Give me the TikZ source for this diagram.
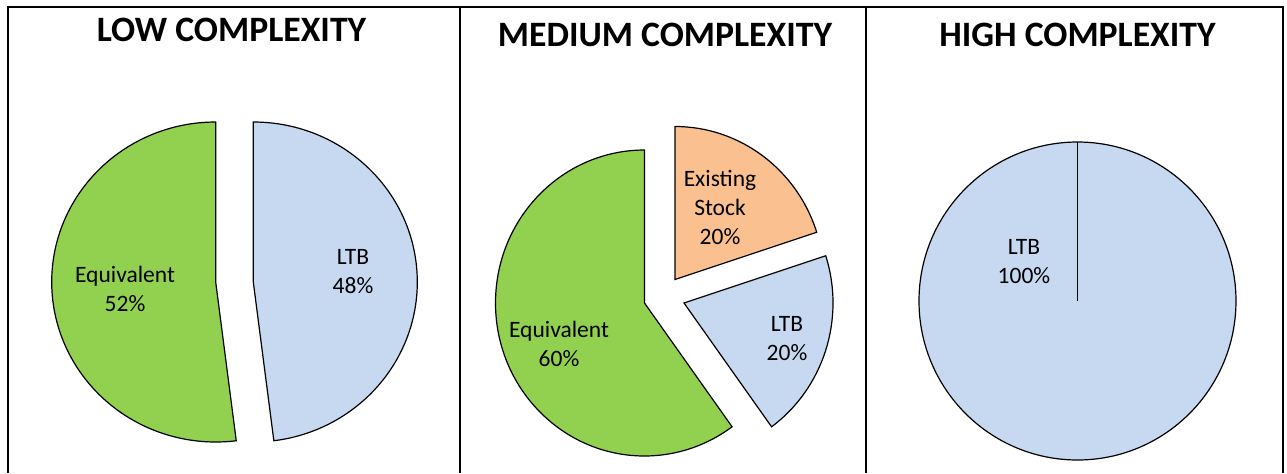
\documentclass[tikz,border=0pt]{standalone}
\usepackage{fontspec}
\setmainfont{Carlito}
\usetikzlibrary{positioning}
\definecolor{eqgreen}{HTML}{92D050}
\definecolor{ltbblue}{HTML}{C6D9F1}
\definecolor{stockorange}{HTML}{FAC090}
\tikzstyle{every node}=[align=center,font=\fontsize{11.75}{14.5}\selectfont]
\tikzstyle{paneltitle}=[anchor=base,font=\bfseries\fontsize{17.85}{20}\selectfont]
\tikzstyle{slice}=[draw=black,line width=0.6pt,line join=miter]
\tikzstyle{frame}=[draw=black,line width=1pt]

\begin{document}
\begin{tikzpicture}[x=0.5pt,y=0.5pt]
  \useasboundingbox (0,0) rectangle (1287,-473);
  % frame and panel dividers
  \draw[frame] (8,-473) |- (1283,-7) -- (1283,-473);
  \draw[frame] (460,-7) -- (460,-473);
  \draw[frame] (866,-7) -- (866,-473);
  % low complexity
  \draw[slice,fill=eqgreen] (215.7,-282) -- ++(0,160)
    arc[start angle=90,end angle=277.2,x radius=164,y radius=160] -- cycle;
  \draw[slice,fill=ltbblue] (253.3,-282) -- ++(0,160)
    arc[start angle=90,end angle=-82.8,x radius=164,y radius=160] -- cycle;
  % medium complexity
  \draw[slice,fill=eqgreen] (644.5,-303) -- ++(0,153)
    arc[start angle=90,end angle=306,x radius=149,y radius=153] -- cycle;
  \draw[slice,fill=stockorange] (675,-279.5) -- ++(0,153)
    arc[start angle=90,end angle=18,x radius=149,y radius=153] -- cycle;
  \draw[slice,fill=ltbblue] (684,-303) -- ++({149*cos(18)},{153*sin(18)})
    arc[start angle=18,end angle=-54,x radius=149,y radius=153] -- cycle;
  % high complexity
  \draw[slice,fill=ltbblue] (1077.5,-301) ellipse[x radius=158.5,y radius=159];
  \draw[slice] (1077.5,-301) -- ++(0,159);
  % titles
  \node[paneltitle] (lowTitle) at (231.5,-41.5) {LOW COMPLEXITY};
  \node[paneltitle] (medTitle) at (665,-46.7) {MEDIUM COMPLEXITY};
  \node[paneltitle] (highTitle) at (1077.5,-46) {HIGH COMPLEXITY};
  % slice labels
  \node (lowEq) at (125,-289) {Equivalent\\52\%};
  \node (lowLtb) at (353,-272) {LTB\\48\%};
  \node (medStock) at (720,-207) {Existing\\Stock\\20\%};
  \node (medEq) at (559,-344) {Equivalent\\60\%};
  \node (medLtb) at (787,-339) {LTB\\20\%};
  \node (highLtb) at (1024,-262) {LTB\\100\%};
\end{tikzpicture}
\end{document}
